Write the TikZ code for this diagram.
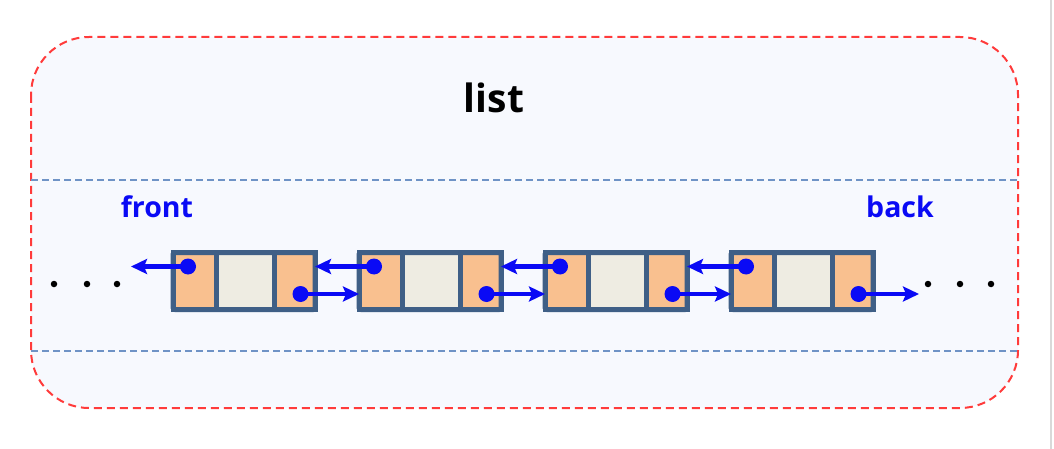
\documentclass[tikz,border=0pt]{standalone}
\usepackage{fontspec}
\setmainfont{Open Sans}
\usetikzlibrary{arrows.meta}
\definecolor{panelfill}{HTML}{F7F9FE}
\definecolor{panelred}{HTML}{FF3B3B}
\definecolor{sepblue}{HTML}{6F93C6}
\definecolor{cellborder}{HTML}{3F5F86}
\definecolor{cellorange}{HTML}{F9C08F}
\definecolor{cellbeige}{HTML}{EEECE2}
\definecolor{ptrblue}{HTML}{0A0AF5}
\tikzset{
  panel/.style={draw=panelred, fill=panelfill, line width=2pt, dash pattern=on 8pt off 5pt, rounded corners=58pt},
  sepline/.style={draw=sepblue, line width=1.3pt, dash pattern=on 7pt off 4pt},
  cellbox/.style={draw=cellborder, line width=5pt, minimum height=56.5pt, inner sep=0pt, outer sep=0pt, anchor=west},
  ptrcell/.style={cellbox, fill=cellorange},
  datacell/.style={cellbox, fill=cellbeige},
  ptrdot/.style={circle, fill=ptrblue, minimum size=16pt, inner sep=0pt},
  ptrarrow/.style={draw=ptrblue, line width=4.7pt, -{Stealth[length=16pt,width=15pt,inset=3pt]}},
  ellipsisdot/.style={circle, fill=black, minimum size=6.5pt, inner sep=0pt},
  title/.style={font=\bfseries\fontsize{39}{42}\selectfont, text=black},
  endlabel/.style={font=\bfseries\fontsize{28.5}{30}\selectfont, text=ptrblue},
}
\begin{document}
\begin{tikzpicture}[x=1pt,y=-1pt]
\useasboundingbox (0,0) rectangle (1054,449);
\fill[white] (0,0) rectangle (1054,449);
\draw[black!15, line width=1.2pt] (1051,0) -- (1051,449);
% panel
\path[panel] (31,37) rectangle (1018,408);
\draw[sepline] (31,180) -- (1018,180);
\draw[sepline] (31,351) -- (1018,351);
% title
\node[title] (listlabel) at (494,98) {list};
\node[endlabel] (frontlabel) at (157,207) {front};
\node[endlabel] (backlabel) at (900,207) {back};
% list nodes
\foreach \i in {0,1,2,3}{
  \pgfmathsetmacro{\xo}{173+186*\i}
  \node[ptrcell, minimum width=43.5pt] (L\i) at (\xo,281) {};
  \node[datacell, minimum width=57.5pt] (M\i) at (\xo+43.5,281) {};
  \node[ptrcell, minimum width=41pt] (R\i) at (\xo+101,281) {};
  \draw[cellborder, line width=5pt, rounded corners=2pt] (\xo,252.5) rectangle (\xo+142,309.5);
  \node[ptrdot] (pl\i) at (\xo+15,266.5) {};
  \node[ptrdot] (pr\i) at (\xo+127.5,294) {};
}
% free ends
\coordinate (frontend) at (131,266.5);
\coordinate (backend) at (919,294);
\draw[ptrarrow] (pl0.center) -- (frontend);
\draw[ptrarrow] (pr3.center) -- (backend);
\foreach \a/\b in {0/1,1/2,2/3}{
  \draw[ptrarrow] (pr\a.center) -- (pr\a.center -| L\b.west);
  \draw[ptrarrow] (pl\b.center) -- (pl\b.center -| R\a.east);
}
% ellipses
\node[ellipsisdot] (el1) at (54,284) {};
\node[ellipsisdot] (el2) at (87,284) {};
\node[ellipsisdot] (el3) at (117,284) {};
\node[ellipsisdot] (er1) at (928,284) {};
\node[ellipsisdot] (er2) at (960,284) {};
\node[ellipsisdot] (er3) at (991,284) {};
\end{tikzpicture}
\end{document}
